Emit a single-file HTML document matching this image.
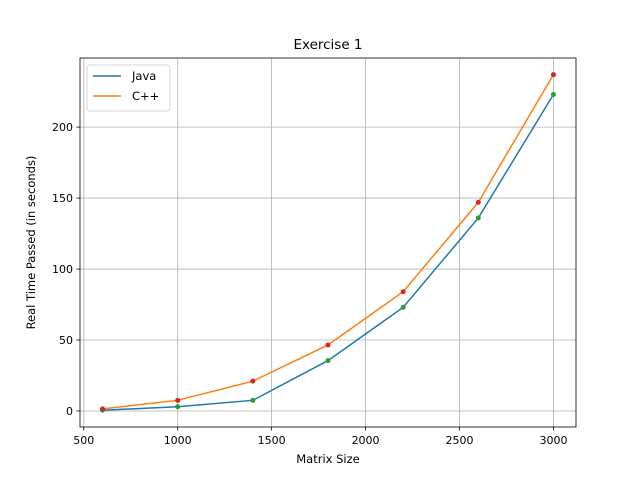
<!DOCTYPE html>
<html><head><meta charset="utf-8"><style>
body{margin:0;background:#fff;font-family:"DejaVu Sans","Liberation Sans",sans-serif;}
svg text{font-family:"DejaVu Sans","Liberation Sans",sans-serif;}
</style></head><body>
<svg id="chart" width="640" height="480" xmlns="http://www.w3.org/2000/svg"></svg>
<script>
const sizes=[600,1000,1400,1800,2200,2600,3000];
const javaTimes=[0.5,3,7.5,35.5,73,136,223];
const cppTimes=[1.5,7.5,21,46.5,84,147,237];
const xTicks=[500,1000,1500,2000,2500,3000];
const yTicks=[0,50,100,150,200];
const L=80,R=576,T=58,B=427;
const xmin=480,xmax=3120,ymin=-11.3,ymax=248.7;
const sx=v=>L+(v-xmin)/(xmax-xmin)*(R-L);
const sy=v=>B-(v-ymin)/(ymax-ymin)*(B-T);
const svg=document.getElementById('chart');
const NS='http://www.w3.org/2000/svg';
function mk(tag,attrs,parent){const e=document.createElementNS(NS,tag);for(const k in attrs)e.setAttribute(k,attrs[k]);(parent||svg).appendChild(e);return e;}
const grid=mk('g',{});


xTicks.forEach(t=>{const x=sx(t);
 mk('line',{x1:x,x2:x,y1:T,y2:B,stroke:'#b0b0b0','stroke-width':0.8},grid);
 mk('line',{x1:x,x2:x,y1:B,y2:B+3.5,stroke:'#000','stroke-width':0.8});
 const tx=mk('text',{x:x,y:B+17,'text-anchor':'middle','font-size':11});tx.textContent=t;
 
 });
yTicks.forEach(t=>{const y=sy(t);
 mk('line',{x1:L,x2:R,y1:y,y2:y,stroke:'#b0b0b0','stroke-width':0.8},grid);
 mk('line',{x1:L-3.5,x2:L,y1:y,y2:y,stroke:'#000','stroke-width':0.8});
 const tx=mk('text',{x:L-7,y:y+4,'text-anchor':'end','font-size':11});tx.textContent=t;
 
 });
function series(vals,color,dot,name){
 const p=mk('polyline',{points:sizes.map((s,i)=>sx(s)+','+sy(vals[i])).join(' '),fill:'none',stroke:color,'stroke-width':1.5});
 
 
 sizes.forEach((s,i)=>{const c=mk('circle',{cx:sx(s),cy:sy(vals[i]),r:2.5,fill:dot});
  
  });
}
series(javaTimes,'#1f77b4','#2ca02c','java');
series(cppTimes,'#ff7f0e','#d62728','cpp');
const frame=mk('rect',{x:L,y:T,width:R-L,height:B-T,fill:'none',stroke:'#000','stroke-width':0.8});


const title=mk('text',{x:(L+R)/2,y:T-9,'text-anchor':'middle','font-size':13.5});title.textContent='Exercise 1';


const xl=mk('text',{x:(L+R)/2,y:463,'text-anchor':'middle','font-size':11.5});xl.textContent='Matrix Size';


const yl=mk('text',{x:0,y:0,'text-anchor':'middle','font-size':11.5,transform:`translate(35,${(T+B)/2}) rotate(-90)`});yl.textContent='Real Time Passed (in seconds)';


const lg=mk('g',{});


mk('rect',{x:87,y:65,width:83,height:46,rx:3,fill:'#fff','fill-opacity':0.8,stroke:'#ccc','stroke-width':0.8},lg);
[['Java','#1f77b4',81],['C++','#ff7f0e',101]].forEach(([n,c,y])=>{
 mk('line',{x1:93,x2:121,y1:y-5,y2:y-5,stroke:c,'stroke-width':1.5},lg);
 const t=mk('text',{x:132,y:y-1,'font-size':11.5},lg);t.textContent=n;
 
 });
</script>
</body></html>
